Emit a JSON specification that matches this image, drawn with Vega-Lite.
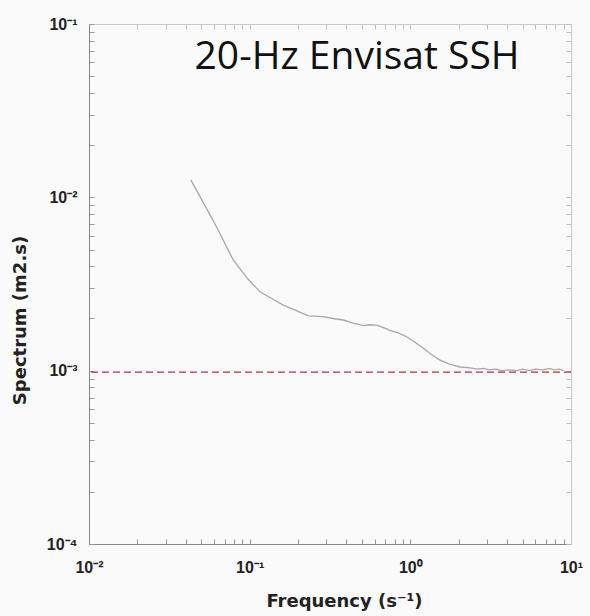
{
  "$schema": "https://vega.github.io/schema/vega-lite/v6.json",
  "autosize": {"type": "none"},
  "width": 482,
  "height": 520,
  "padding": {"left": 89, "top": 24, "right": 19, "bottom": 72},
  "background": "#fafafa",
  "config": {
    "view": {"stroke": "#c8c8c8", "strokeWidth": 1},
    "axis": {"grid": false}
  },
  "datasets": {
    "spec": [
      {"f": 0.043, "s": 0.0126},
      {"f": 0.06, "s": 0.0072},
      {"f": 0.079, "s": 0.00435},
      {"f": 0.097, "s": 0.0034},
      {"f": 0.116, "s": 0.00285},
      {"f": 0.138, "s": 0.0026},
      {"f": 0.162, "s": 0.00239},
      {"f": 0.195, "s": 0.00222},
      {"f": 0.232, "s": 0.00207},
      {"f": 0.287, "s": 0.00205},
      {"f": 0.33, "s": 0.002},
      {"f": 0.383, "s": 0.00196},
      {"f": 0.44, "s": 0.00188},
      {"f": 0.51, "s": 0.00182},
      {"f": 0.56, "s": 0.00184},
      {"f": 0.617, "s": 0.00183},
      {"f": 0.68, "s": 0.00177},
      {"f": 0.746, "s": 0.00171},
      {"f": 0.84, "s": 0.00165},
      {"f": 0.948, "s": 0.00157},
      {"f": 1.07, "s": 0.00146},
      {"f": 1.2, "s": 0.00135},
      {"f": 1.35, "s": 0.00124},
      {"f": 1.53, "s": 0.00115},
      {"f": 1.75, "s": 0.00109},
      {"f": 2.04, "s": 0.00105},
      {"f": 2.3, "s": 0.00104},
      {"f": 2.6, "s": 0.00102},
      {"f": 2.85, "s": 0.00103},
      {"f": 3.1, "s": 0.00101},
      {"f": 3.4, "s": 0.00102},
      {"f": 3.7, "s": 0.001},
      {"f": 4.1, "s": 0.00101},
      {"f": 4.58, "s": 0.001},
      {"f": 5.0, "s": 0.00102},
      {"f": 5.5, "s": 0.001},
      {"f": 6.0, "s": 0.00102},
      {"f": 6.7, "s": 0.00101},
      {"f": 7.3, "s": 0.00103},
      {"f": 7.9, "s": 0.00101},
      {"f": 8.5, "s": 0.00102},
      {"f": 8.95, "s": 0.001}
    ],
    "ref": [{"s": 0.00098}],
    "lab": [{"f": 0.466, "s": 0.0645, "t": "20-Hz Envisat SSH"}]
  },
  "layer": [
    {
      "data": {"name": "spec"},
      "mark": {"type": "line", "color": "#a8a8a8", "strokeWidth": 1.3},
      "encoding": {
        "x": {
          "field": "f", "type": "quantitative",
          "scale": {"type": "log", "domain": [0.01, 10], "nice": false},
          "axis": {
            "orient": "bottom",
            "values": [0.01,0.02,0.03,0.04,0.05,0.06,0.07,0.08,0.09,0.1,0.2,0.3,0.4,0.5,0.6,0.7,0.8,0.9,1,2,3,4,5,6,7,8,9,10],
            "labelExpr": "datum.value == 0.01 ? '10⁻²' : datum.value == 0.1 ? '10⁻¹' : datum.value == 1 ? '10⁰' : datum.value == 10 ? '10¹' : ''",
            "tickSize": -5, "tickColor": "#999", "domainColor": "#888",
            "labelFont": "Liberation Sans", "labelFontWeight": "bold", "labelFontSize": 16, "labelColor": "#222",
            "labelPadding": 20, "labelDx": 6, "labelFlush": false, "labelOverlap": false,
            "title": "Frequency (s⁻¹)", "titleFont": "DejaVu Sans", "titleFontWeight": "bold", "titleFontSize": 18, "titleColor": "#222",
            "titleX": 255, "titleY": 57, "titleBaseline": "middle", "titleAlign": "center"
          }
        },
        "y": {
          "field": "s", "type": "quantitative",
          "scale": {"type": "log", "domain": [0.0001, 0.1], "nice": false},
          "axis": {
            "orient": "left",
            "values": [0.0001,0.0002,0.0003,0.0004,0.0005,0.0006,0.0007,0.0008,0.0009,0.001,0.002,0.003,0.004,0.005,0.006,0.007,0.008,0.009,0.01,0.02,0.03,0.04,0.05,0.06,0.07,0.08,0.09,0.1],
            "labelExpr": "datum.value == 0.0001 ? '10⁻⁴' : datum.value == 0.001 ? '10⁻³' : datum.value == 0.01 ? '10⁻²' : datum.value == 0.1 ? '10⁻¹' : ''",
            "tickSize": -5, "tickColor": "#999", "domainColor": "#888",
            "labelFont": "Liberation Sans", "labelFontWeight": "bold", "labelFontSize": 16, "labelColor": "#222",
            "labelPadding": 17, "labelFlush": false, "labelOverlap": false,
            "title": "Spectrum (m2.s)", "titleFont": "DejaVu Sans", "titleFontWeight": "bold", "titleFontSize": 18, "titleColor": "#222",
            "titleX": -69, "titleY": 296, "titleBaseline": "middle", "titleAlign": "center", "titleAngle": -90
          }
        }
      }
    },
    {
      "data": {"name": "ref"},
      "mark": {"type": "rule", "color": "#b0303c", "strokeWidth": 1.3, "strokeDash": [7, 4]},
      "encoding": {
        "y": {"field": "s", "type": "quantitative", "axis": null}
      }
    },
    {
      "data": {"name": "lab"},
      "mark": {"type": "text", "font": "Open Sans", "fontSize": 39, "color": "#111", "align": "center", "baseline": "middle"},
      "encoding": {
        "x": {
          "field": "f", "type": "quantitative",
          "axis": {
            "orient": "top",
            "values": [0.01,0.02,0.03,0.04,0.05,0.06,0.07,0.08,0.09,0.1,0.2,0.3,0.4,0.5,0.6,0.7,0.8,0.9,1,2,3,4,5,6,7,8,9,10],
            "labels": false, "tickSize": -5, "tickColor": "#bbb", "domainColor": "#c8c8c8", "title": null
          }
        },
        "y": {
          "field": "s", "type": "quantitative",
          "axis": {
            "orient": "right",
            "values": [0.0001,0.0002,0.0003,0.0004,0.0005,0.0006,0.0007,0.0008,0.0009,0.001,0.002,0.003,0.004,0.005,0.006,0.007,0.008,0.009,0.01,0.02,0.03,0.04,0.05,0.06,0.07,0.08,0.09,0.1],
            "labels": false, "tickSize": -5, "tickColor": "#bbb", "domainColor": "#c8c8c8", "title": null
          }
        },
        "text": {"field": "t"}
      }
    }
  ],
  "resolve": {"axis": {"x": "independent", "y": "independent"}}
}
